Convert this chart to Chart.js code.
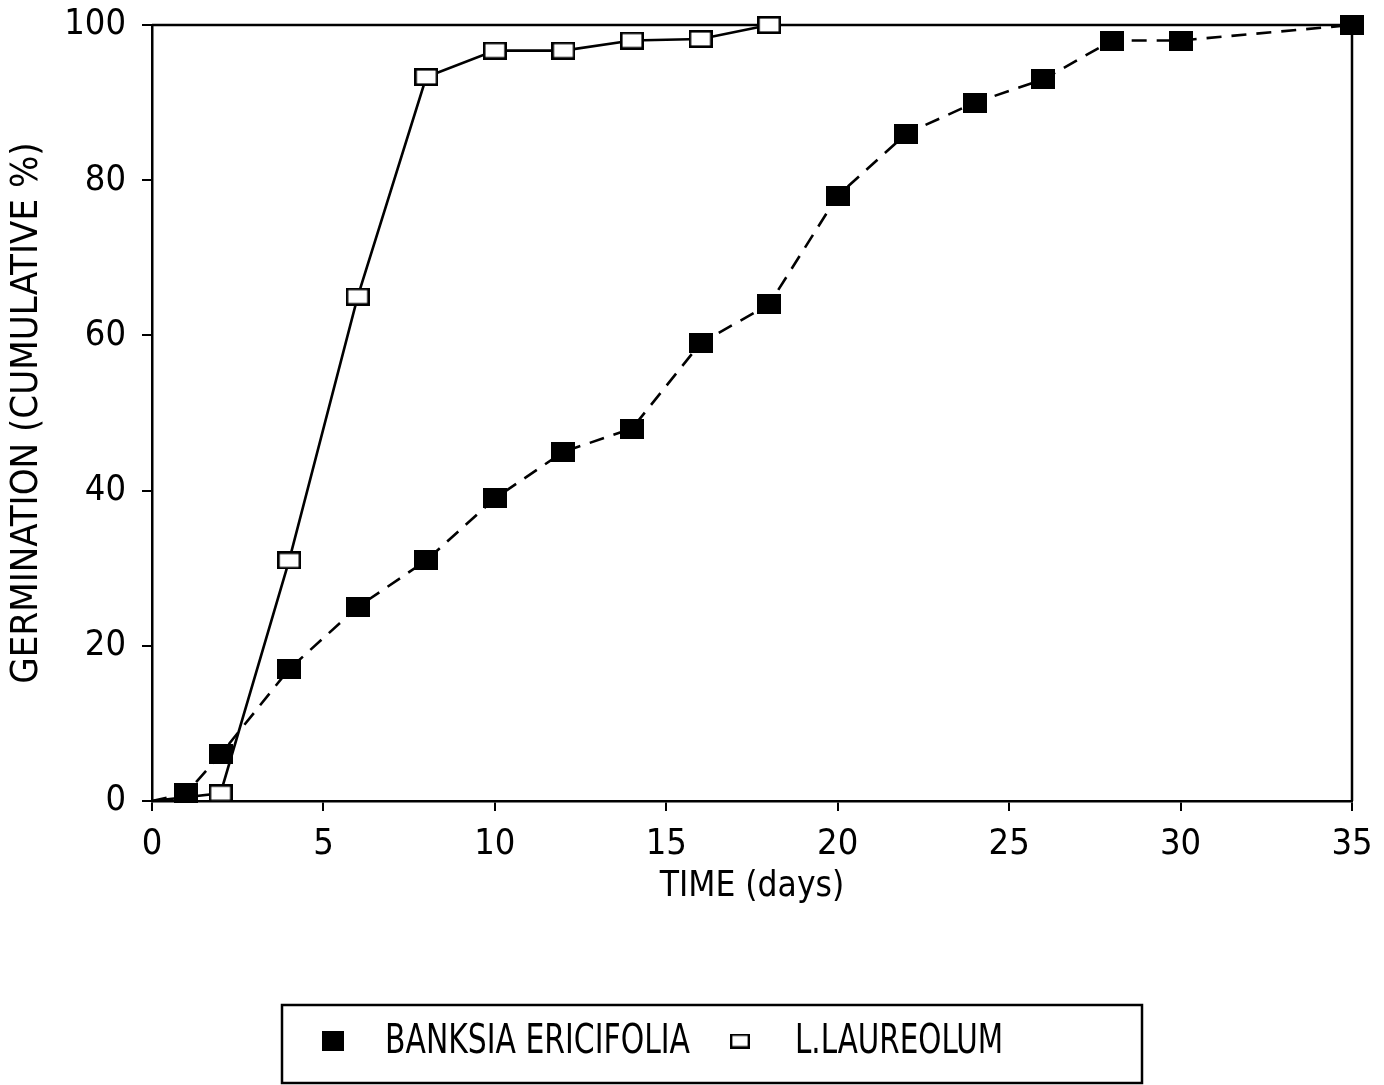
<!DOCTYPE html>
<html>
<head>
<meta charset="utf-8">
<style>
  html, body { margin: 0; padding: 0; background: #fff; }
  canvas { display: block; }
</style>
<script src="https://cdn.jsdelivr.net/npm/chart.js@4/dist/chart.umd.min.js"></script>
</head>
<body>
<canvas id="c" width="1384" height="1085"></canvas>
<script>
// ---- data ----
const banksiaDays = [0, 1, 2, 4, 6, 8, 10, 12, 14, 16, 18, 20, 22, 24, 26, 28, 30, 35];
const banksiaValues = [0, 1, 6, 17, 25, 31, 39, 45, 48, 59, 64, 78, 86, 90, 93, 98, 98, 100];
const laureolumDays = [0, 2, 4, 6, 8, 10, 12, 14, 16, 18];
const laureolumValues = [0, 1, 31, 65, 93.3, 96.7, 96.7, 98, 98.2, 100];
const seriesLabels = ['BANKSIA ERICIFOLIA', 'L.LAUREOLUM'];
const xTitle = 'TIME (days)';
const yTitle = 'GERMINATION (CUMULATIVE %)';

// ---- marker images ----
function makeRect(w, h, filled, lw) {
  const c = document.createElement('canvas');
  c.width = w; c.height = h;
  const g = c.getContext('2d');
  if (filled) {
    g.fillStyle = '#000';
    g.fillRect(0, 0, w, h);
  } else {
    g.fillStyle = '#fff';
    g.fillRect(0, 0, w, h);
    g.strokeStyle = '#000';
    g.lineWidth = lw;
    g.strokeRect(lw / 2, lw / 2, w - lw, h - lw);
  }
  return c;
}
const filledMarker = makeRect(24, 20, true, 0);
const openMarker = makeRect(24, 18, false, 2.6);
const filledLegend = makeRect(22, 20, true, 0);
const openLegend = makeRect(20, 15, false, 2.4);

const condFont = "'DejaVu Sans Condensed', 'DejaVu Sans', sans-serif";
const tickFont = { family: condFont, size: 36 };

const framePlugin = {
  id: 'frame',
  beforeDatasetsDraw(chart) {
    const { ctx, chartArea: a } = chart;
    ctx.save();
    ctx.strokeStyle = '#000';
    ctx.lineWidth = 2.5;
    ctx.beginPath();
    ctx.moveTo(a.left, a.top);
    ctx.lineTo(a.right, a.top);
    ctx.lineTo(a.right, a.bottom);
    ctx.stroke();
    ctx.restore();
  }
};

const boxLegendPlugin = {
  id: 'boxLegend',
  afterDraw(chart) {
    const { ctx } = chart;
    ctx.save();
    ctx.strokeStyle = '#000';
    ctx.lineWidth = 2.5;
    ctx.strokeRect(282, 1005, 860, 78);
    const markers = [filledLegend, openLegend];
    const markerX = [333, 740];
    const textX = [385, 795];
    const textW = [305, 208];
    const cy = 1042;
    ctx.font = '40px ' + condFont;
    ctx.fillStyle = '#000';
    ctx.textBaseline = 'middle';
    ctx.textAlign = 'left';
    chart.data.datasets.forEach((ds, i) => {
      const m = markers[i];
      ctx.drawImage(m, markerX[i] - m.width / 2, cy - m.height / 2 - 1);
      ctx.fillText(ds.label, textX[i], cy + 1, textW[i]);
    });
    ctx.restore();
  }
};

new Chart(document.getElementById('c'), {
  type: 'scatter',
  data: {
    datasets: [
      {
        label: seriesLabels[0],
        data: banksiaDays.map((d, i) => ({ x: d, y: banksiaValues[i] })),
        showLine: true,
        borderColor: '#000',
        borderWidth: 2.6,
        borderDash: [15, 10],
        pointStyle: filledMarker,
        pointRadius: ctx => ctx.dataIndex === 0 ? 0 : 10,
        pointHoverRadius: ctx => ctx.dataIndex === 0 ? 0 : 10,
        clip: false,
        order: 2
      },
      {
        label: seriesLabels[1],
        data: laureolumDays.map((d, i) => ({ x: d, y: laureolumValues[i] })),
        showLine: true,
        borderColor: '#000',
        borderWidth: 2.6,
        pointStyle: openMarker,
        pointRadius: ctx => ctx.dataIndex === 0 ? 0 : 10,
        pointHoverRadius: ctx => ctx.dataIndex === 0 ? 0 : 10,
        clip: false,
        order: 1
      }
    ]
  },
  options: {
    responsive: false,
    animation: false,
    events: [],
    layout: { padding: { left: 0, top: 25, right: 32, bottom: 164 } },
    plugins: {
      legend: { display: false },
      tooltip: { enabled: false }
    },
    scales: {
      x: {
        type: 'linear',
        min: 0, max: 35,
        afterFit: s => { s.height = 120; s.paddingLeft = 0; s.paddingRight = 0; },
        ticks: { stepSize: 5, color: '#000', font: tickFont, padding: 12, maxRotation: 0 },
        grid: { display: true, drawOnChartArea: false, drawTicks: true, tickLength: 10, color: '#000', lineWidth: 2 },
        border: { display: true, color: '#000', width: 2.5 },
        title: { display: true, text: xTitle, color: '#000', font: { family: condFont, size: 35, lineHeight: 1 }, padding: { top: 0, bottom: 17 } }
      },
      y: {
        min: 0, max: 100,
        afterFit: s => { s.width = 152; s.paddingTop = 0; s.paddingBottom = 0; },
        ticks: { stepSize: 20, color: '#000', font: tickFont, padding: 16 },
        grid: { display: true, drawOnChartArea: false, drawTicks: true, tickLength: 10, color: '#000', lineWidth: 2 },
        border: { display: true, color: '#000', width: 2.5 },
        title: { display: true, text: yTitle, color: '#000', font: { family: condFont, size: 38, lineHeight: 1 }, padding: { top: 8, bottom: 0 } }
      }
    }
  },
  plugins: [framePlugin, boxLegendPlugin]
});
</script>
</body>
</html>
